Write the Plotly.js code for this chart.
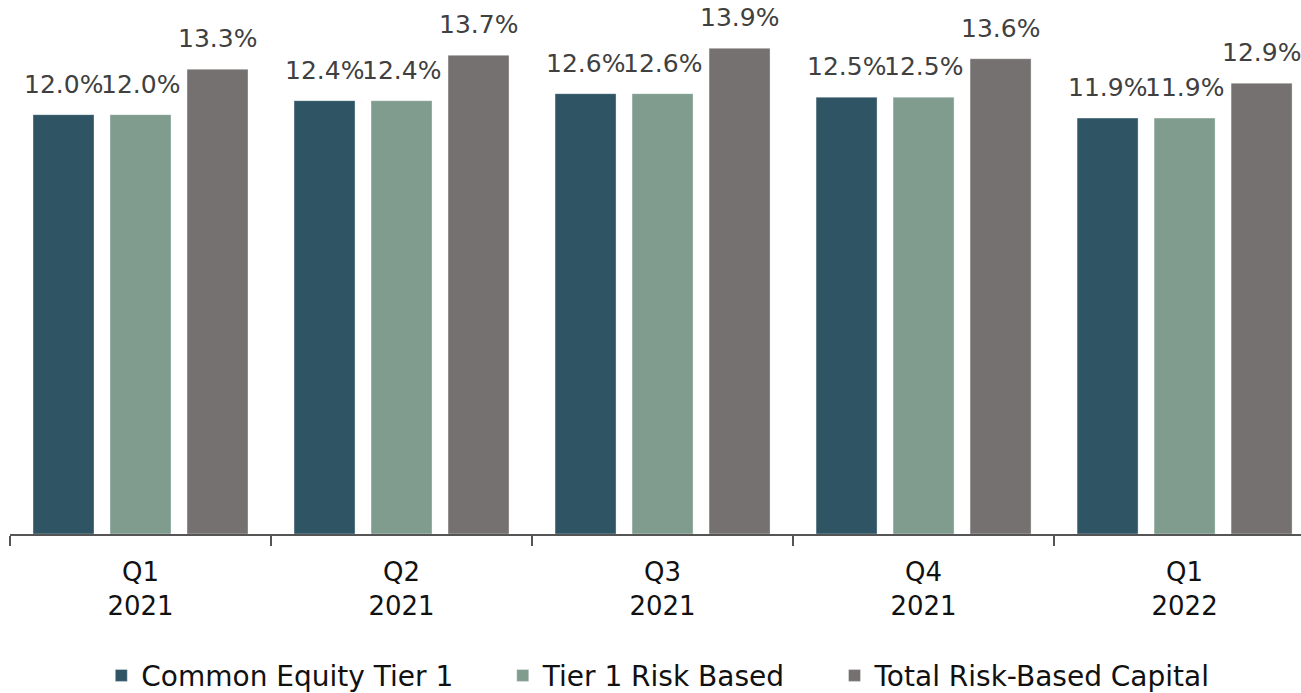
<!DOCTYPE html>
<html>
<head>
<meta charset="utf-8">
<script src="https://cdn.plot.ly/plotly-3.0.1.min.js"></script>
<style>
html,body{margin:0;padding:0;background:#fff;overflow:hidden;}
#chart{width:1301px;height:693px;}
</style>
</head>
<body>
<div id="chart"></div>
<script>
const categories = ["Q1<br>2021", "Q2<br>2021", "Q3<br>2021", "Q4<br>2021", "Q1<br>2022"];
const seriesNames = ["Common Equity Tier 1", "Tier 1 Risk Based", "Total Risk-Based Capital"];
const cet1 = [12.0, 12.4, 12.6, 12.5, 11.9];
const tier1 = [12.0, 12.4, 12.6, 12.5, 11.9];
const totalRbc = [13.3, 13.7, 13.9, 13.6, 12.9];
const colors = ["#2f5565", "#7f9c8f", "#767171"];

const FONT = "DejaVu Sans";
const PAD = "\u00a0\u00a0\u00a0\u00a0\u00a0";
const seriesValues = [cet1, tier1, totalRbc];
const traces = seriesValues.map((vals, i) => ({
  type: "bar",
  name: seriesNames[i] + (i < 2 ? PAD : ""),
  x: categories,
  y: vals,
  marker: {color: colors[i], line: {color: "rgba(255,255,255,0.35)", width: 1}},
  hoverinfo: "skip"
}));

// value labels above each bar, anchored to the data through the axes
const slotShift = 77;
const annotations = [];
seriesValues.forEach((vals, i) => {
  vals.forEach((v, j) => {
    annotations.push({
      x: categories[j], y: v, xref: "x", yref: "y",
      text: v.toFixed(1) + "%",
      showarrow: false,
      xanchor: "center", yanchor: "bottom",
      xshift: (i - 1) * slotShift, yshift: 14,
      font: {family: FONT, size: 25, color: "#404040"}
    });
  });
});

const layout = {
  width: 1301, height: 693,
  margin: {l: 10, r: 0, t: 0, b: 159, autoexpand: false},
  paper_bgcolor: "#ffffff",
  plot_bgcolor: "#ffffff",
  barmode: "group",
  bargap: 0.115,
  bargroupgap: 0.208,
  showlegend: true,
  legend: {
    orientation: "h", xref: "container", yref: "container",
    x: 0.506, xanchor: "center", y: 0.025, yanchor: "middle",
    font: {family: FONT, size: 28, color: "#111111"},
    itemwidth: 30,
    itemclick: false, traceorder: "normal"
  },
  annotations: annotations,
  xaxis: {
    type: "category",
    range: [-0.5, 4.446],
    tickson: "boundaries",
    ticks: "outside", ticklen: 10, tickwidth: 1.5, tickcolor: "#555555",
    ticklabelstandoff: 14,
    showline: true, linecolor: "#555555", linewidth: 1.5,
    showgrid: false, zeroline: false, automargin: false,
    tickfont: {family: FONT, size: 26, color: "#111111"},
    fixedrange: true
  },
  yaxis: {
    range: [0, 15.28], visible: false, showgrid: false, zeroline: false, fixedrange: true
  }
};

Plotly.newPlot("chart", traces, layout, {displayModeBar: false, staticPlot: true});
</script>
</body>
</html>
